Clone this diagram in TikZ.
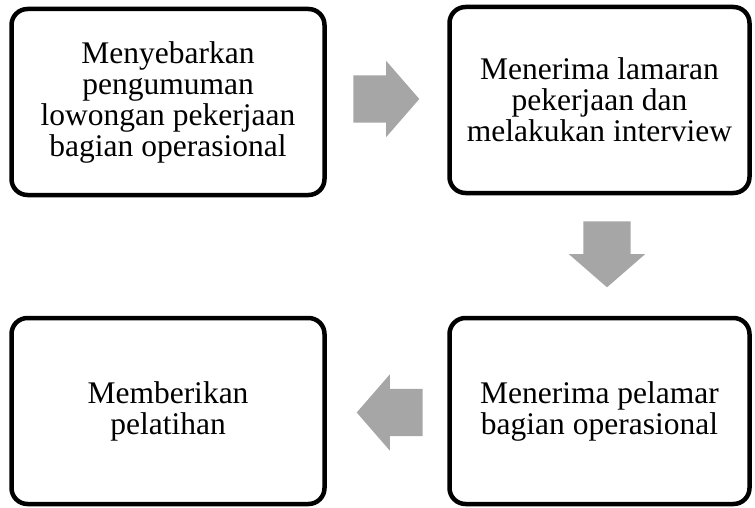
\documentclass[tikz,border=0pt]{standalone}
\usepackage{fontspec}
\setmainfont{Liberation Serif}
\usetikzlibrary{shapes.arrows}

\definecolor{arrowgray}{RGB}{166,166,166}

\begin{document}
\begin{tikzpicture}[
  x=1pt, y=1pt,
  stepbox/.style={draw=black, line width=4.5pt, rounded corners=16pt,
                  minimum height=186pt, align=center, fill=white,
                  font=\fontsize{31.5}{31}\selectfont, inner sep=0pt},
  widebox/.style={stepbox, minimum width=313pt},
  narrowbox/.style={stepbox, minimum width=300pt},
  blockarrow/.style={single arrow, fill=arrowgray, draw=none,
                     inner xsep=0pt, inner ysep=23.5pt,
                     minimum height=66pt, minimum width=76pt,
                     single arrow head extend=14.5pt, single arrow tip angle=98}
]
\useasboundingbox (0,0) rectangle (755,-508);

% Boxes at fixed positions
\node[widebox]   (sebar)     at (168,-102)   {Menyebarkan\\pengumuman\\lowongan pekerjaan\\bagian operasional};
\node[narrowbox] (lamaran)   at (599.5,-100) {Menerima lamaran\\pekerjaan dan\\melakukan interview};
\node[narrowbox] (pelamar)   at (599.5,-411) {Menerima pelamar\\bagian operasional};
\node[widebox]   (pelatihan) at (168,-411)   {Memberikan\\pelatihan};

% Block arrows between the steps
\node[blockarrow]               (arrkanan) at (376,-99)    {};
\node[blockarrow, rotate=-90]   (arrbawah) at (607,-244)   {};
\node[blockarrow, rotate=180]   (arrkiri)  at (400,-412.5) {};

\end{tikzpicture}
\end{document}
